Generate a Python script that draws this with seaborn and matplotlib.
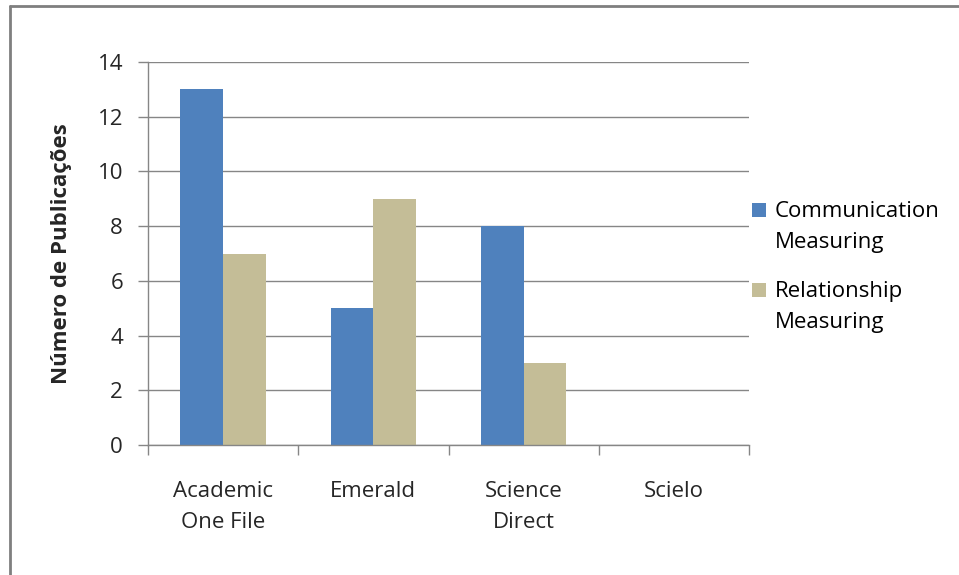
import pandas as pd
import seaborn as sns
import matplotlib.pyplot as plt
from matplotlib.lines import Line2D
from matplotlib.patches import Rectangle

# Data
bases = ["Academic\nOne File", "Emerald", "Science\nDirect", "Scielo"]
communication = [13, 5, 8, 0]
relationship = [7, 9, 3, 0]
series = ["Communication\nMeasuring", "Relationship\nMeasuring"]
colors = ["#4F81BD", "#C4BD97"]

df = pd.DataFrame({
    "base": bases * 2,
    "valor": communication + relationship,
    "serie": [series[0]] * 4 + [series[1]] * 4,
})

sns.set_style("white")
plt.rcParams["font.family"] = ["Open Sans", "DejaVu Sans"]
grid_c = "#868686"
fs = 16
W, H = 959, 575

fig = plt.figure(figsize=(9.59, 5.75), dpi=100)
ax = fig.add_axes([148 / W, 1 - 445 / H, 601 / W, 383 / H])

sns.barplot(data=df, x="base", y="valor", hue="serie", palette=colors,
            width=0.57, saturation=1, linewidth=0, ax=ax, legend=False)

ax.set_xlim(-0.5, 3.5)
ax.set_ylim(0, 14)
ax.set_yticks(range(0, 15, 2))
ax.yaxis.grid(True, color=grid_c, linewidth=1)
ax.set_axisbelow(True)
for s in ["top", "right"]:
    ax.spines[s].set_visible(False)
for s in ["left", "bottom"]:
    ax.spines[s].set_color(grid_c)
    ax.spines[s].set_linewidth(1)

ax.set_xticks(range(4))
ax.set_xticklabels(bases, fontsize=fs, linespacing=1.6, va="top")
ax.tick_params(axis="x", length=0, pad=26)
# category boundary ticks
ax.set_xticks([-0.5, 0.5, 1.5, 2.5, 3.5], minor=True)
ax.tick_params(axis="x", which="minor", length=7, color=grid_c, width=1,
               direction="out", bottom=True)
ax.tick_params(axis="y", length=7, color=grid_c, width=1, direction="out",
               labelsize=fs, pad=11, left=True)

ax.set_xlabel("")
ax.set_ylabel("Número de Publicações", fontsize=fs, fontweight="bold", labelpad=18)

# legend: square aligned with the first line of each entry
for i, (name, c) in enumerate(zip(series, colors)):
    top = 203 + i * 80
    fig.add_artist(Rectangle((752 / W, 1 - (top + 14) / H), 14 / W, 14 / H,
                             facecolor=c, edgecolor="none",
                             transform=fig.transFigure))
    for j, line in enumerate(name.split("\n")):
        fig.text(775 / W, 1 - (top + 14 + j * 31) / H, line, fontsize=fs,
                 va="baseline", ha="left", color="black")

# outer frame (left and top edges visible)
fig.add_artist(Line2D([10 / W, 10 / W], [0, 1 - 6 / H], color="#7f7f7f",
                      linewidth=2, transform=fig.transFigure))
fig.add_artist(Line2D([10 / W, 1], [1 - 6 / H, 1 - 6 / H], color="#7f7f7f",
                      linewidth=2, transform=fig.transFigure))

fig.savefig("out.png", dpi=100)
